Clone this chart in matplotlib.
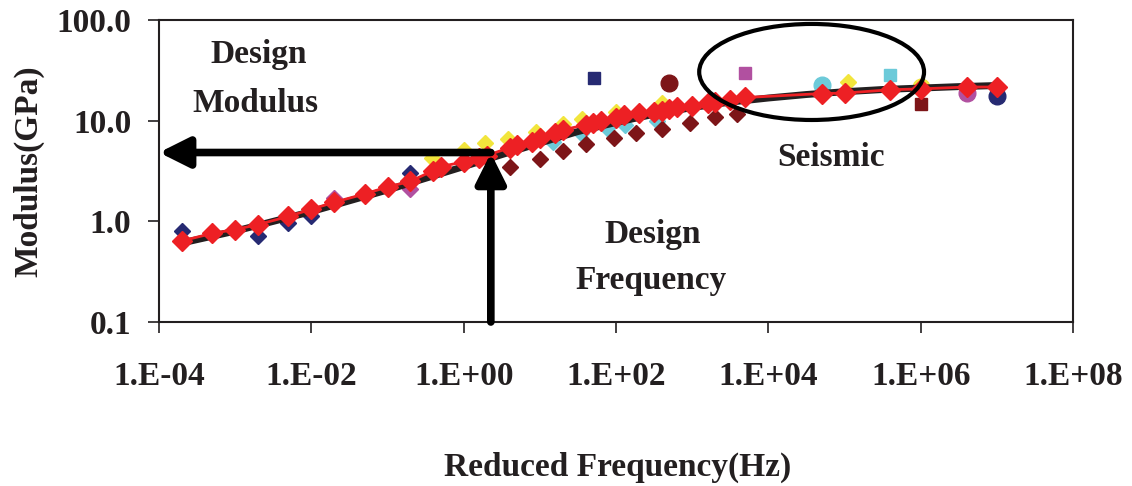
import matplotlib
matplotlib.use("Agg")
import matplotlib.pyplot as plt
from matplotlib.patches import Ellipse
from matplotlib.ticker import NullLocator, FixedLocator, FixedFormatter

plt.rcParams['font.family'] = ['Liberation Serif', 'DejaVu Serif']
plt.rcParams['font.weight'] = 'bold'

# ---------------- data ----------------
x_ticks = [1e-4, 1e-2, 1e0, 1e2, 1e4, 1e6, 1e8]
x_tick_labels = ['1.E-04', '1.E-02', '1.E+00', '1.E+02', '1.E+04', '1.E+06', '1.E+08']
y_ticks = [0.1, 1.0, 10.0, 100.0]
y_tick_labels = ['0.1', '1.0', '10.0', '100.0']

# master curve (fit) - thick black line
fit_f = [2e-4, 1e-3, 1e-2, 1e-1, 1e0, 3.16, 1e1, 31.6, 1e2, 316, 1e3, 3160, 1e4,
         3.16e4, 1e5, 3.16e5, 1e6, 3.16e6, 1.1e7]
fit_E = [0.61, 0.80, 1.25, 2.05, 3.5, 4.6, 6.0, 7.8, 9.6, 11.6, 13.5, 15.3, 16.8,
         18.2, 19.4, 20.4, 21.1, 21.8, 22.4]

# main red series (diamonds + thin line)
red_f = [2e-4, 5e-4, 1e-3, 2e-3, 5e-3, 1e-2, 2e-2, 5e-2, 0.1, 0.2, 0.4, 0.5, 1.0,
         1.6, 2.0, 4.0, 5.0, 8.0, 10, 16, 20, 40, 50, 63, 100, 126, 200, 316, 400,
         500, 630, 1000, 1600, 2000, 3160, 5000, 5e4, 1e5, 4e5, 1e6, 4e6, 1e7]
red_E = [0.64, 0.76, 0.83, 0.93, 1.12, 1.32, 1.55, 1.87, 2.2, 2.5, 3.2, 3.5, 3.9,
         4.3, 4.5, 5.4, 5.8, 6.2, 6.7, 7.5, 8.1, 9.1, 9.5, 10.0, 10.7, 11.4, 12.0, 12.3, 12.5,
         13.0, 13.7, 14.0, 15.0, 15.4, 16.2, 17.0, 18.6, 18.8, 20.3, 20.7, 21.6, 21.6]

navy_d_f = [2e-4, 2e-3, 5e-3, 1e-2, 0.2]
navy_d_E = [0.80, 0.71, 0.97, 1.12, 3.0]
navy_s_f = [52]
navy_s_E = [26.5]
navy_c_f = [1e7]
navy_c_E = [17.5]

mag_d_f = [2e-2, 0.2]
mag_d_E = [1.7, 2.1]
mag_s_f = [5000]
mag_s_E = [29.5]
mag_c_f = [4e6]
mag_c_E = [19.0]

yel_d_f = [0.38, 1.0, 1.9, 3.8, 9.0, 20, 36, 100, 400, 1.1e5]
yel_d_E = [4.3, 5.1, 6.0, 6.6, 7.8, 9.3, 10.4, 12.2, 15.0, 24.2]
yel_c_f = [1e6]
yel_c_E = [21.5]

cyan_d_f = [15, 35, 75, 130, 350]
cyan_d_E = [6.2, 7.6, 8.4, 9.0, 9.9]
cyan_c_f = [5e4]
cyan_c_E = [22.5]
cyan_s_f = [4e5]
cyan_s_E = [28.2]

mar_d_f = [4, 10, 20, 40, 95, 185, 400, 930, 2000, 3900]
mar_d_E = [3.47, 4.17, 5.0, 5.9, 6.7, 7.6, 8.3, 9.5, 10.9, 11.7]
mar_c_f = [500]
mar_c_E = [23.7]
mar_s_f = [1e6]
mar_s_E = [14.7]

design_f = 2.27
design_E = 4.83

# ---------------- colours ----------------
C_RED = '#ED2024'
C_NAVY = '#262A72'
C_MAG = '#B150A0'
C_YEL = '#F2E53C'
C_CYAN = '#6CCAD9'
C_MAR = '#7D1518'
C_BLK = '#231F20'

fig = plt.figure(figsize=(11.32, 4.86), dpi=100)
ax = fig.add_axes([0.1405, 0.3374, 0.8074, 0.6214])
ax.set_xscale('log')
ax.set_yscale('log')
ax.set_xlim(1e-4, 1e8)
ax.set_ylim(0.1, 100)

def pts(f, E, marker, color, ms, z=2):
    ax.plot(f, E, linestyle='none', marker=marker, color=color, ms=ms,
            mec=color, mew=1, zorder=z)

pts(navy_d_f, navy_d_E, 'D', C_NAVY, 8)
pts(mag_d_f, mag_d_E, 'D', C_MAG, 8)
pts(yel_d_f, yel_d_E, 'D', C_YEL, 8)
pts(cyan_d_f, cyan_d_E, 'D', C_CYAN, 8)
pts(mar_d_f, mar_d_E, 'D', C_MAR, 8.5)
pts(navy_s_f, navy_s_E, 's', C_NAVY, 8.5)
pts(mag_s_f, mag_s_E, 's', C_MAG, 8.5)
pts(cyan_s_f, cyan_s_E, 's', C_CYAN, 8.5)
pts(mar_s_f, mar_s_E, 's', C_MAR, 8.5)
pts(navy_c_f, navy_c_E, 'o', C_NAVY, 12)
pts(mag_c_f, mag_c_E, 'o', C_MAG, 12)
pts(yel_c_f, yel_c_E, 'o', C_YEL, 12)
pts(cyan_c_f, cyan_c_E, 'o', C_CYAN, 12)
pts(mar_c_f, mar_c_E, 'o', C_MAR, 12)

ax.plot(fit_f, fit_E, color=C_BLK, lw=5, solid_capstyle='round', zorder=3)
ax.plot(red_f, red_E, color=C_RED, lw=2, marker='D', ms=10.5, mec=C_RED, mew=1, zorder=4)

# arrows
ax.annotate('', xy=(1.0e-4, design_E), xytext=(design_f, design_E),
            arrowprops=dict(arrowstyle='-|>,head_length=0.9,head_width=0.45',
                            mutation_scale=20, lw=5.5, color='black',
                            shrinkA=0, shrinkB=0), zorder=6,
            annotation_clip=False)
ax.annotate('', xy=(design_f, design_E * 0.99), xytext=(design_f, 0.1),
            arrowprops=dict(arrowstyle='-|>,head_length=0.9,head_width=0.45',
                            mutation_scale=20, lw=5.5, color='black',
                            shrinkA=0, shrinkB=0), zorder=6,
            annotation_clip=False)

ax.add_patch(Ellipse((0.714, 0.828), 0.246, 0.318, transform=ax.transAxes,
                     fill=False, edgecolor='black', lw=3, zorder=6))

fs = 24
ax.text(0.109, 0.887, 'Design', transform=ax.transAxes, ha='center', va='center', fontsize=fs, fontweight='bold', color=C_BLK)
ax.text(0.105, 0.725, 'Modulus', transform=ax.transAxes, ha='center', va='center', fontsize=fs, fontweight='bold', color=C_BLK)
ax.text(0.735, 0.546, 'Seismic', transform=ax.transAxes, ha='center', va='center', fontsize=fs, fontweight='bold', color=C_BLK)
ax.text(0.540, 0.291, 'Design', transform=ax.transAxes, ha='center', va='center', fontsize=fs, fontweight='bold', color=C_BLK)
ax.text(0.538, 0.136, 'Frequency', transform=ax.transAxes, ha='center', va='center', fontsize=fs, fontweight='bold', color=C_BLK)

ax.xaxis.set_major_locator(FixedLocator(x_ticks))
ax.xaxis.set_major_formatter(FixedFormatter(x_tick_labels))
ax.yaxis.set_major_locator(FixedLocator(y_ticks))
ax.yaxis.set_major_formatter(FixedFormatter(y_tick_labels))
ax.xaxis.set_minor_locator(NullLocator())
ax.yaxis.set_minor_locator(NullLocator())

ax.tick_params(axis='x', direction='out', length=8, width=1.2, pad=20, labelsize=fs, colors=C_BLK)
ax.tick_params(axis='y', direction='out', length=8, width=1.2, pad=12, labelsize=fs, colors=C_BLK)
for lab in ax.get_xticklabels() + ax.get_yticklabels():
    lab.set_fontweight('bold')
for sp in ax.spines.values():
    sp.set_linewidth(1.5)
    sp.set_color(C_BLK)

ax.set_xlabel('Reduced Frequency(Hz)', fontsize=fs, fontweight='bold', color=C_BLK)
ax.xaxis.set_label_coords(0.502, -0.482)
ax.xaxis.label.set_va('center')
ax.set_ylabel('Modulus(GPa)', fontsize=fs, fontweight='bold', color=C_BLK)
ax.yaxis.set_label_coords(-0.143, 0.5)
ax.yaxis.label.set_va('center')

fig.savefig('out.png', dpi=100)
